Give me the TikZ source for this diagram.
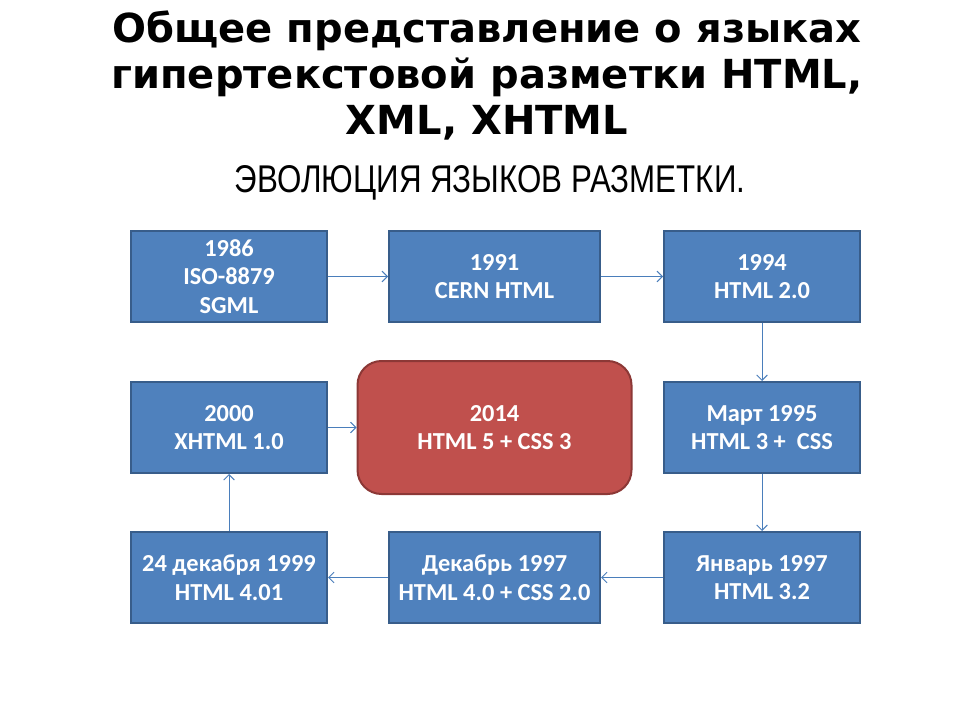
\documentclass[tikz,border=0pt]{standalone}
\usepackage{fontspec}
\setmainfont{Carlito}
\newfontfamily\titlefont{DejaVu Sans}
\newfontfamily\subfont[FakeStretch=0.81]{Liberation Sans}
\usetikzlibrary{arrows.meta,positioning}
\definecolor{BBlue}{HTML}{4F81BD}
\definecolor{BBlueLine}{HTML}{385D8A}
\definecolor{BRed}{HTML}{C0504D}
\definecolor{BRedLine}{HTML}{8C3836}
\definecolor{BArrow}{HTML}{4A7EBB}

\begin{document}
\begin{tikzpicture}[
  x=0.75pt,y=-0.75pt,
  every node/.style={inner sep=0pt},
  b/.style={draw=BBlueLine,line width=1.5pt,fill=BBlue,text=white,
    font=\bfseries\fontsize{18.3}{21.5}\selectfont,
    minimum width=147pt,minimum height=68.25pt,align=center},
  w/.style={b,minimum width=158.25pt},
  r/.style={b,draw=BRedLine,fill=BRed,rounded corners=18pt,
    minimum width=205.5pt,minimum height=99.75pt},
  a/.style={-{Straight Barb[length=4pt,width=8pt]},line width=0.75pt,color=BArrow}
]
  \useasboundingbox (0,0) rectangle (960,720);
  \node[font=\titlefont\bfseries\fontsize{30}{34.5}\selectfont,align=center,anchor=north]
    (title) at (487,11) {Общее представление о языках\\гипертекстовой разметки HTML,\\XML, XHTML};
  \node[font=\subfont\fontsize{29}{32}\selectfont,anchor=base] (sub) at (490,193)
    {ЭВОЛЮЦИЯ ЯЗЫКОВ РАЗМЕТКИ.};
  % top row
  \node[b] (sgml) at (229,276.5) {1986\\ISO-8879\\SGML};
  \node[w,right=45pt of sgml] (cern) {1991\\CERN HTML};
  \node[b,right=46.5pt of cern] (html2) {1994\\HTML 2.0};
  % right column and bottom row
  \node[b,below=43.5pt of html2] (html3) {Март 1995\\HTML 3 +\ \ CSS};
  \node[b,below=42.75pt of html3] (html32) {Январь 1997\\HTML 3.2};
  \node[w,left=46.5pt of html32] (html40) {Декабрь 1997\\HTML 4.0 + CSS 2.0};
  \node[b,left=45pt of html40] (html401) {24 декабря 1999\\HTML 4.01};
  \node[b,above=42.75pt of html401] (xhtml) {2000\\XHTML 1.0};
  \node[r] (html5) at (cern.center |- xhtml.center) {2014\\HTML 5 + CSS 3};
  \draw[a] (sgml) -- (cern);
  \draw[a] (cern) -- (html2);
  \draw[a] (html2) -- (html3);
  \draw[a] (html3) -- (html32);
  \draw[a] (html32) -- (html40);
  \draw[a] (html40) -- (html401);
  \draw[a] (html401) -- (xhtml);
  \draw[a] (xhtml) -- (html5);
\end{tikzpicture}
\end{document}
